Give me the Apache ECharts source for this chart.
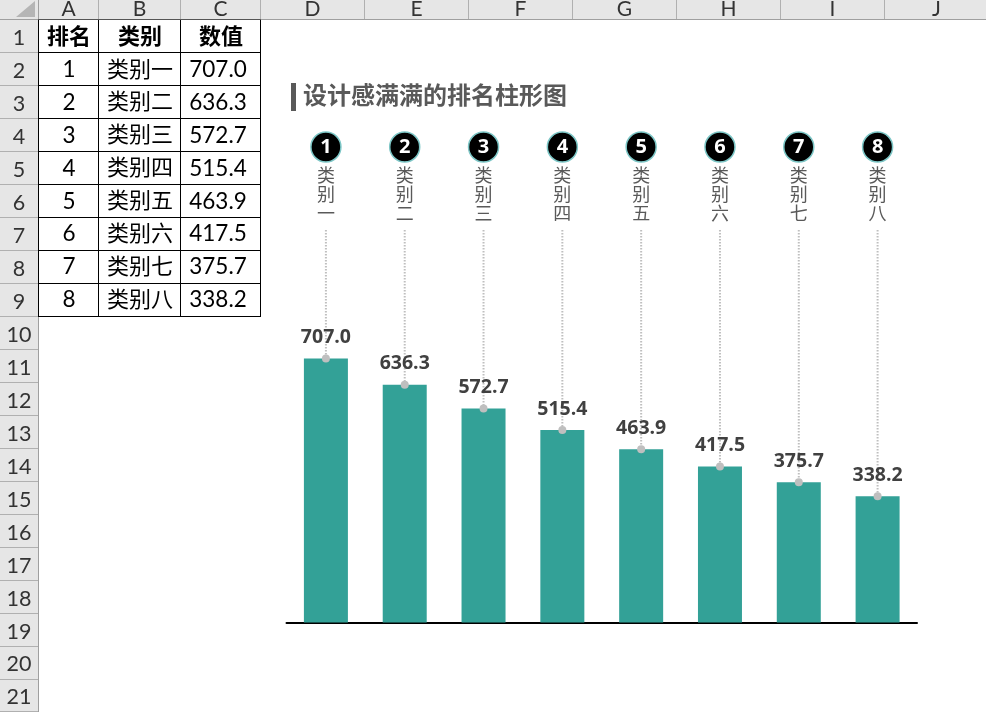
<!DOCTYPE html>
<html><head><meta charset="utf-8">
<style>html,body{margin:0;padding:0;background:#fff}#c{width:986px;height:712px}</style>
<script src="https://cdn.jsdelivr.net/npm/echarts@6/dist/echarts.min.js"></script>
</head><body><div id="c"></div>
<script>
const categories = ['类别一','类别二','类别三','类别四','类别五','类别六','类别七','类别八'];
const ranks = [1,2,3,4,5,6,7,8];
const values = [707.0,636.3,572.7,515.4,463.9,417.5,375.7,338.2];
const badgeLevel = [1273,1273,1273,1273,1273,1273,1273,1273];
const nameLevel = [1147,1147,1147,1147,1147,1147,1147,1147];
const leaderTop = [1051,1051,1051,1051,1051,1051,1051,1051];
const title = '设计感满满的排名柱形图';
const tableHeader = ['排名','类别','数值'];
const colLetters = ['A','B','C','D','E','F','G','H','I','J'];
const rowNumbers = [1,2,3,4,5,6,7,8,9,10,11,12,13,14,15,16,17,18,19,20,21];

const colEdges = [38,98,180,260,364,468,572,676,780,884,988];
const rowEdge = i => 19.5 + i * 32.95;
const zh = 'Lato,"Noto Sans CJK SC",sans-serif';
const g = [];
const rect = (x,y,w,h,fill,z=1) => g.push({type:'rect',silent:true,z,shape:{x,y,width:w,height:h},style:{fill}});
const text = (x,y,t,size,fill,weight='normal',z=3) => g.push({type:'text',silent:true,z,x,y,style:{text:String(t),fontSize:size,fontWeight:weight,fontFamily:zh,fill,align:'center',verticalAlign:'middle'}});

// sheet headers
rect(0,0,986,19,'#e6e6e6');
rect(0,0,38,712,'#e6e6e6');
rect(0,19,986,1,'#9f9f9f',2);
rect(38,0,1,712,'#9f9f9f',2);
g.push({type:'polygon',silent:true,z:2,shape:{points:[[16,17],[35,17],[35,1]]},style:{fill:'#b5b5b5'}});
colLetters.forEach((l,i)=>{
  rect(colEdges[i+1],0,1,19,'#b0b0b0',2);
  text((colEdges[i]+colEdges[i+1])/2+0.5,9,l,21,'#333333');
});
rowNumbers.forEach((n,i)=>{
  rect(0,Math.round(rowEdge(i+1)),38,1,'#b0b0b0',2);
  text(19,rowEdge(i)+19,n,21.5,'#333333');
});
// data table
const tx = [69,140,218];
tableHeader.forEach((h,c)=>text(tx[c]+(c===2?3:0),37,h,22,'#000000','bold'));
categories.forEach((cat,r)=>{
  const y = rowEdge(r+1)+17;
  text(tx[0],y,ranks[r],22.5,'#000000');
  text(tx[1],y,cat,22,'#000000');
  text(tx[2],y,values[r].toFixed(1),22.5,'#000000');
});
for(let r=1;r<=9;r++) rect(38,Math.round(rowEdge(r)),223,1,'#000000',2);
[38,98,180,260].forEach(x=>rect(x,20,1,297,'#000000',2));
rect(38,19,223,1,'#555555',2);
// title accent
rect(291,83,5,28,'#595959',2);

const chart = echarts.init(document.getElementById('c'),null,{renderer:'canvas'});
chart.setOption({
  animation:false,
  backgroundColor:'#ffffff',
  title:{text:title,left:298,top:78,textStyle:{fontSize:24,fontWeight:'bold',color:'#595959',fontFamily:'"Noto Sans CJK SC",sans-serif'}},
  grid:{left:286.5,width:630.5,top:147,height:475.5},
  xAxis:{type:'category',data:categories,axisLine:{lineStyle:{color:'#000',width:2}},axisTick:{show:false},axisLabel:{show:false}},
  yAxis:{type:'value',min:0,max:1273,show:false,splitLine:{show:false}},
  graphic:g,
  series:[
    {type:'bar',data:values,barWidth:44,itemStyle:{color:'#33a197'},z:2},
    {type:'custom',z:3,data:values.map((v,i)=>[i,leaderTop[i],v]),encode:{x:0,y:[1,2]},
     renderItem:(params,api)=>{
       const a=api.coord([api.value(0),api.value(1)]),b=api.coord([api.value(0),api.value(2)]);
       return {type:'line',shape:{x1:a[0],y1:a[1],x2:b[0],y2:b[1]},style:{stroke:'#bfbfbf',lineWidth:2,lineDash:[1.5,1.5]}};
     }},
    {type:'scatter',z:4,data:values,symbol:'circle',symbolSize:8,itemStyle:{color:'#bfbfbf',opacity:1},
     label:{show:true,position:'top',distance:7,formatter:p=>p.value.toFixed(1),fontSize:19.5,fontWeight:'bold',color:'#404040',fontFamily:'"Open Sans",sans-serif'}},
    {type:'scatter',z:5,data:badgeLevel,symbol:'circle',symbolSize:30,itemStyle:{color:'#000',borderColor:'#7cc6c6',borderWidth:1.5,opacity:1},
     label:{show:true,position:'inside',formatter:p=>String(ranks[p.dataIndex]),color:'#fff',fontSize:20,fontWeight:'bold',fontFamily:'"Open Sans",sans-serif'}},
    {type:'scatter',z:5,data:nameLevel,symbol:'circle',symbolSize:1,itemStyle:{color:'rgba(0,0,0,0)',opacity:1},
     label:{show:true,position:'inside',formatter:p=>categories[p.dataIndex].split('').join('\n'),color:'#595959',fontSize:18,lineHeight:19,align:'center',verticalAlign:'middle',fontFamily:'"Noto Sans CJK SC",sans-serif'}}
  ]
});
</script></body></html>
